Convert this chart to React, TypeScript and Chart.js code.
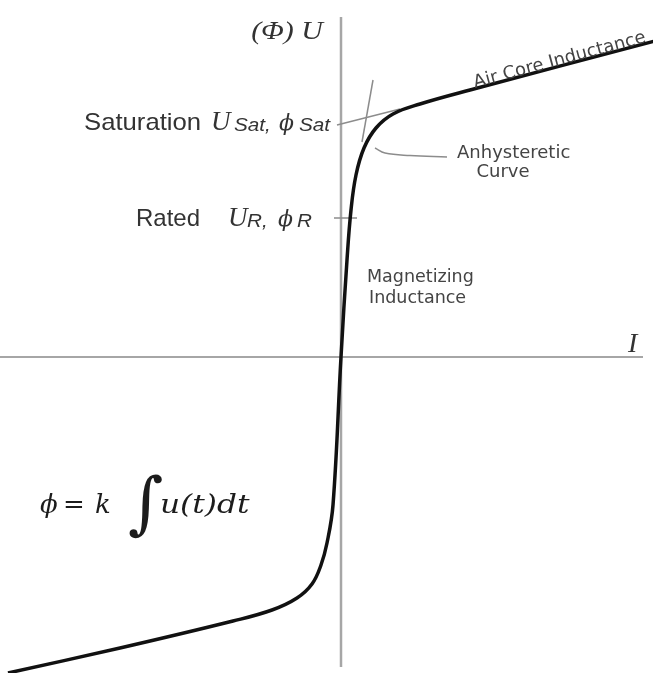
import React, { useEffect, useRef } from "react";
import { Chart, registerables } from "chart.js";

Chart.register(...registerables);

// Magnetisation (anhysteretic) curve: current I against flux Φ, arbitrary units
const currentI = [-33.3, -22.1, -10.8, -6.9, -4.4, -2.9, -2.0, -1.4, -0.8, 0, 0.6, 1.0, 1.5, 2.3, 3.5, 5.2, 7.9, 12.9, 31.4];
const fluxPhi = [-31.6, -29.1, -26.4, -25.3, -24.1, -22.7, -20.8, -18.6, -14.8, 0, 9.7, 14.7, 18.2, 20.9, 22.9, 24.3, 25.3, 26.7, 31.6];

// Tangent for the air core inductance (slope above saturation)
const airCoreI = [-0.4, 5.9];
const airCorePhi = [23.2, 24.8];

// Tangent for the magnetizing inductance (steep part)
const magnetizingI = [3.2, 2.1];
const magnetizingPhi = [27.7, 21.5];

// Rated operating point tick on the Φ axis
const ratedI = [-0.7, 1.6];
const ratedPhi = [13.9, 13.9];

// Leader from the knee to the "Anhysteretic Curve" label
const leaderI = [3.4, 4.4, 6.9, 10.6];
const leaderPhi = [20.9, 20.4, 20.15, 20.0];

// Visible range of both axes
const iRange = [-34.1, 31.2];
const phiRange = [-31.6, 35.7];

const toPoints = (xs: number[], ys: number[]) => xs.map((x, k) => ({ x, y: ys[k] }));

type Label = {
  text: string;
  i: number;
  phi: number;
  font: string;
  color?: string;
  align?: CanvasTextAlign;
  sx?: number;
  angle?: number;
};

const SANS = '"Liberation Sans", Arial, sans-serif';
const SERIF = '"Liberation Serif", "Times New Roman", serif';
const DSERIF = '"DejaVu Serif", serif';
const VERD = '"DejaVu Sans", Verdana, sans-serif';

const labels: Label[] = [
  { text: "(Φ) U", i: -5.4, phi: 31.8, font: `italic 26px ${SERIF}`, align: "center", sx: 1.15 },
  { text: "Saturation", i: -25.7, phi: 22.7, font: `24px ${SANS}`, sx: 1.07 },
  { text: "U", i: -13.0, phi: 22.7, font: `italic 27px ${SERIF}` },
  { text: "Sat,", i: -10.7, phi: 22.6, font: `italic 18px ${SANS}`, sx: 1.15 },
  { text: "ϕ", i: -6.2, phi: 22.7, font: `italic 22px ${DSERIF}` },
  { text: "Sat", i: -4.2, phi: 22.6, font: `italic 18px ${SANS}`, sx: 1.15 },
  { text: "Rated", i: -20.5, phi: 13.1, font: `24px ${SANS}` },
  { text: "U", i: -11.3, phi: 13.1, font: `italic 27px ${SERIF}` },
  { text: "R,", i: -9.4, phi: 13.0, font: `italic 18px ${SANS}`, sx: 1.15 },
  { text: "ϕ", i: -6.3, phi: 13.1, font: `italic 22px ${DSERIF}` },
  { text: "R", i: -4.4, phi: 13.0, font: `italic 18px ${SANS}`, sx: 1.15 },
  { text: "Air Core Inductance", i: 13.4, phi: 26.9, font: `18px ${VERD}`, color: "#444", angle: -15 },
  { text: "Anhysteretic", i: 11.6, phi: 19.9, font: `18px ${VERD}`, color: "#444" },
  { text: "Curve", i: 16.2, phi: 18.0, font: `18px ${VERD}`, color: "#444", align: "center" },
  { text: "Magnetizing", i: 2.6, phi: 7.5, font: `17.5px ${VERD}`, color: "#444" },
  { text: "Inductance", i: 2.8, phi: 5.4, font: `17.5px ${VERD}`, color: "#444" },
  { text: "I", i: 28.7, phi: 0.5, font: `italic 28px ${SERIF}` },
  // φ = k ∫ u(t) dt
  { text: "ϕ", i: -30.1, phi: -15.6, font: `italic 26px ${DSERIF}`, color: "#1c1c1c" },
  { text: "=", i: -27.8, phi: -15.6, font: `26px ${DSERIF}`, color: "#1c1c1c" },
  { text: "k", i: -24.6, phi: -15.6, font: `italic 26px ${DSERIF}`, color: "#1c1c1c" },
  { text: "∫", i: -21.3, phi: -16.9, font: `68px ${DSERIF}`, color: "#1c1c1c" },
  { text: "u(t)dt", i: -18.1, phi: -15.6, font: `italic 26px ${DSERIF}`, color: "#1c1c1c", sx: 1.2 },
];

const axesPlugin = {
  id: "crossAxes",
  beforeDatasetsDraw(chart: any) {
    const { ctx, scales } = chart;
    const x = scales.x;
    const y = scales.y;
    const x0 = x.getPixelForValue(0);
    const y0 = y.getPixelForValue(0);
    ctx.save();
    ctx.strokeStyle = "#a6a6a6";
    ctx.lineWidth = 2;
    ctx.beginPath();
    ctx.moveTo(x.getPixelForValue(iRange[0]), y0);
    ctx.lineTo(x.getPixelForValue(30.2), y0);
    ctx.stroke();
    ctx.lineWidth = 2.5;
    ctx.beginPath();
    ctx.moveTo(x0, y.getPixelForValue(34.0));
    ctx.lineTo(x0, y.getPixelForValue(-31.0));
    ctx.stroke();
    ctx.restore();
  },
};

const labelPlugin = {
  id: "curveLabels",
  afterDatasetsDraw(chart: any) {
    const { ctx, scales } = chart;
    labels.forEach((l) => {
      ctx.save();
      ctx.translate(scales.x.getPixelForValue(l.i), scales.y.getPixelForValue(l.phi));
      if (l.angle) ctx.rotate((l.angle * Math.PI) / 180);
      if (l.sx) ctx.scale(l.sx, 1);
      ctx.font = l.font;
      ctx.fillStyle = l.color || "#333";
      ctx.textAlign = l.align || "left";
      ctx.textBaseline = "alphabetic";
      ctx.fillText(l.text, 0, 0);
      ctx.restore();
    });
  },
};

export default function App() {
  const canvasRef = useRef<HTMLCanvasElement | null>(null);

  useEffect(() => {
    if (!canvasRef.current) return;
    const thin = { borderColor: "#8c8c8c", borderWidth: 1.5, pointRadius: 0, showLine: true, clip: false as any };
    const chart = new Chart(canvasRef.current, {
      type: "scatter",
      data: {
        datasets: [
          {
            label: "Anhysteretic curve",
            data: toPoints(currentI, fluxPhi),
            showLine: true,
            borderColor: "#111",
            borderWidth: 3.5,
            pointRadius: 0,
            tension: 0.4,
            clip: false as any,
          },
          { label: "Air core", data: toPoints(airCoreI, airCorePhi), ...thin },
          { label: "Magnetizing", data: toPoints(magnetizingI, magnetizingPhi), ...thin },
          { label: "Rated", data: toPoints(ratedI, ratedPhi), ...thin },
          { label: "Leader", data: toPoints(leaderI, leaderPhi), ...thin, tension: 0.4 },
        ],
      },
      options: {
        animation: false,
        responsive: false,
        maintainAspectRatio: false,
        layout: { padding: 0 },
        plugins: { legend: { display: false }, tooltip: { enabled: false } },
        scales: {
          x: { type: "linear", min: iRange[0], max: iRange[1], display: false },
          y: { type: "linear", min: phiRange[0], max: phiRange[1], display: false },
        },
      },
      plugins: [axesPlugin, labelPlugin],
    });
    return () => chart.destroy();
  }, []);

  return (
    <div style={{ position: "absolute", left: 0, top: 0, width: 653, height: 673, background: "#fff" }}>
      <canvas ref={canvasRef} width={653} height={673} style={{ display: "block" }} />
    </div>
  );
}
